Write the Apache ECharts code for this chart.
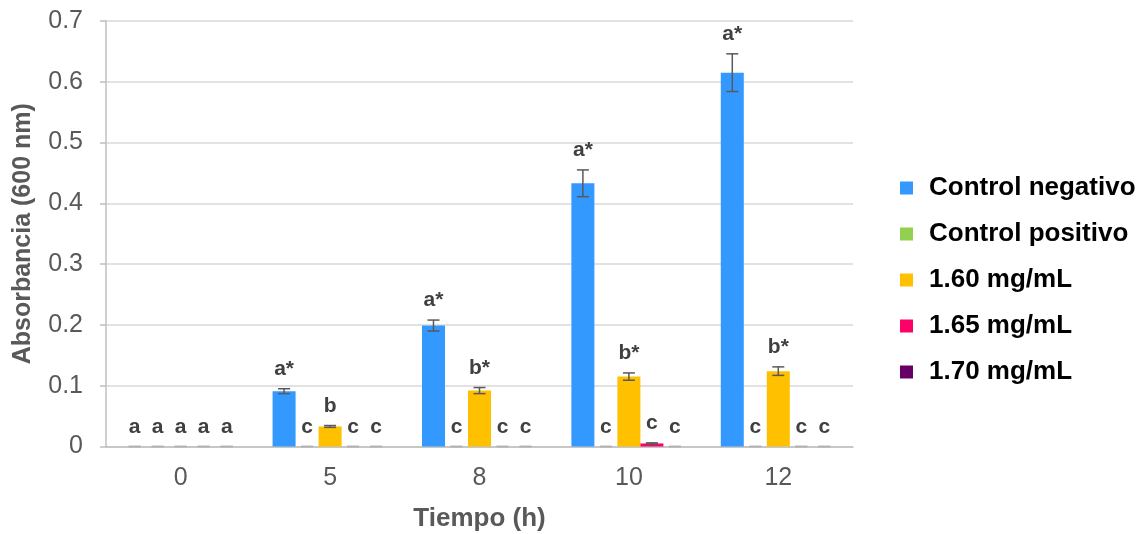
<!DOCTYPE html>
<html>
<head>
<meta charset="utf-8">
<script src="https://cdn.jsdelivr.net/npm/echarts@6/dist/echarts.min.js"></script>
<style>
  html, body { margin: 0; padding: 0; background: #fff; }
  #chart { width: 1146px; height: 534px; }
</style>
</head>
<body>
<div id="chart"></div>
<script>
// Sampling times (h)
const categories = ['0', '5', '8', '10', '12'];

// Series names
const seriesNames = ['Control negativo', 'Control positivo', '1.60 mg/mL', '1.65 mg/mL', '1.70 mg/mL'];

// Mean absorbance at 600 nm
const controlNegativo = [0, 0.091, 0.199, 0.433, 0.615];
const controlPositivo = [0, 0, 0, 0, 0];
const mg160 = [0, 0.033, 0.092, 0.115, 0.124];
const mg165 = [0, 0, 0, 0.005, 0];
const mg170 = [0, 0, 0, 0, 0];

// Standard deviation
const errNegativo = [0, 0.004, 0.009, 0.022, 0.031];
const errPositivo = [0, 0, 0, 0, 0];
const err160 = [0, 0.0015, 0.005, 0.006, 0.007];
const err165 = [0, 0, 0, 0.001, 0];
const err170 = [0, 0, 0, 0, 0];

// Significance letters
const letNegativo = ['a', 'a*', 'a*', 'a*', 'a*'];
const letPositivo = ['a', 'c', 'c', 'c', 'c'];
const let160 = ['a', 'b', 'b*', 'b*', 'b*'];
const let165 = ['a', 'c', 'c', 'c', 'c'];
const let170 = ['a', 'c', 'c', 'c', 'c'];

const colors = ['#3399ff', '#92d050', '#ffc000', '#ff0066', '#660066'];
const values = [controlNegativo, controlPositivo, mg160, mg165, mg170];
const errors = [errNegativo, errPositivo, err160, err165, err170];
const letters = [letNegativo, letPositivo, let160, let165, let170];

const CAT_GAP = 0.23;
const N = seriesNames.length;
const FONT = 'Arial, "Liberation Sans", sans-serif';

const barSeries = seriesNames.map((name, k) => ({
  name: name,
  type: 'bar',
  data: values[k],
  barGap: '0%',
  barCategoryGap: (CAT_GAP * 100) + '%',
  itemStyle: { color: colors[k] },
  z: 2
}));

// Error bars with significance letters, offset to sit on each bar of the group
const errorSeries = seriesNames.map((name, k) => ({
  name: name + ' err',
  type: 'custom',
  z: 5,
  clip: false,
  silent: true,
  data: values[k].map((v, i) => [i, v, errors[k][i]]),
  renderItem: function (params, api) {
    const i = api.value(0), v = api.value(1), e = api.value(2);
    const band = api.size([1, 0])[0];
    const barW = band * (1 - CAT_GAP) / N;
    const c = api.coord([i, v]);
    const cx = c[0] + (k - (N - 1) / 2) * barW;
    const yHi = api.coord([i, v + e])[1];
    const yLo = api.coord([i, Math.max(0, v - e)])[1];
    const cap = 6;
    const col = e > 0 || v > 0 ? '#595959' : '#b0b0b0';
    const ls = { stroke: col, lineWidth: 1.5 };
    return {
      type: 'group',
      children: [
        { type: 'line', shape: { x1: cx, y1: yHi, x2: cx, y2: yLo }, style: ls },
        { type: 'line', shape: { x1: cx - cap, y1: yHi, x2: cx + cap, y2: yHi }, style: ls },
        { type: 'line', shape: { x1: cx - cap, y1: yLo, x2: cx + cap, y2: yLo }, style: ls },
        {
          type: 'text',
          style: {
            text: letters[k][params.dataIndex],
            x: cx, y: yHi - 9,
            align: 'center', verticalAlign: 'bottom',
            font: 'bold 21px ' + FONT,
            fill: '#404040'
          }
        }
      ]
    };
  }
}));

const chart = echarts.init(document.getElementById('chart'));
chart.setOption({
  animation: false,
  backgroundColor: '#ffffff',
  textStyle: { fontFamily: FONT },
  grid: { left: 106, right: 293, top: 21, bottom: 87.5, containLabel: false, outerBoundsMode: 'none' },
  legend: {
    data: seriesNames,
    orient: 'vertical',
    left: 895,
    top: 170,
    icon: 'rect',
    itemWidth: 13,
    itemHeight: 13,
    itemGap: 20,
    selectedMode: false,
    textStyle: {
      fontFamily: FONT, fontSize: 26, fontWeight: 'bold', color: '#000000',
      lineHeight: 26, padding: [0, 0, 0, 11]
    }
  },
  xAxis: {
    type: 'category',
    data: categories,
    name: 'Tiempo (h)',
    nameLocation: 'middle',
    nameGap: 59,
    nameMoveOverlap: false,
    nameTextStyle: { fontFamily: FONT, fontSize: 26, fontWeight: 'bold', color: '#595959' },
    axisLine: { lineStyle: { color: '#bfbfbf', width: 1.5 } },
    axisTick: { show: false },
    axisLabel: { fontFamily: FONT, fontSize: 25, color: '#595959', margin: 19 }
  },
  yAxis: {
    type: 'value',
    min: 0,
    max: 0.7,
    interval: 0.1,
    name: 'Absorbancia (600 nm)',
    nameLocation: 'middle',
    nameGap: 70,
    nameMoveOverlap: false,
    nameTextStyle: { fontFamily: FONT, fontSize: 25, fontWeight: 'bold', color: '#595959' },
    axisLine: { show: true, lineStyle: { color: '#bfbfbf', width: 1.5 } },
    axisTick: { show: true, length: 6, lineStyle: { color: '#bfbfbf', width: 1.5 } },
    axisLabel: { fontFamily: FONT, fontSize: 25, color: '#595959', margin: 23 },
    splitLine: { lineStyle: { color: '#d9d9d9', width: 1.5 } }
  },
  series: barSeries.concat(errorSeries)
});
</script>
</body>
</html>
